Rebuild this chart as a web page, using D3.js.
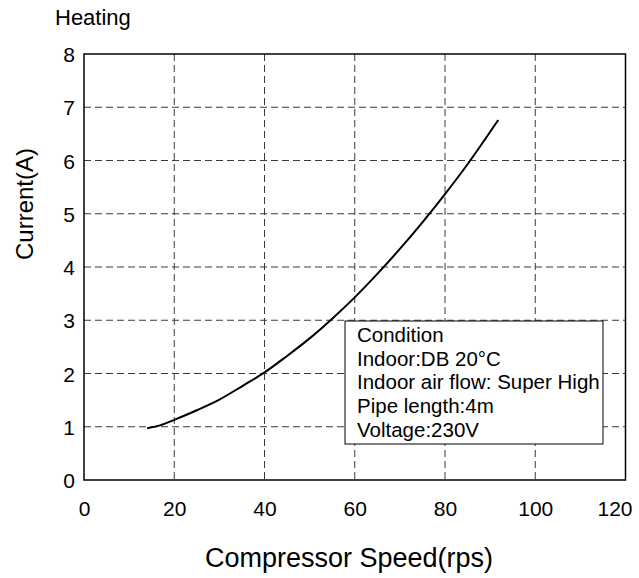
<!DOCTYPE html>
<html><head><meta charset="utf-8">
<script src="https://cdn.jsdelivr.net/npm/d3@7"></script>
<style>body{margin:0;background:#fff}text{font-family:"Liberation Sans",Arial,sans-serif;fill:#000}</style>
</head><body><svg id="c" width="639" height="578"></svg>
<script>
const speed = [14, 17, 20, 25, 30, 35, 40, 45, 50, 55, 60, 65, 70, 75, 80, 85, 91.8];
const current = [0.97, 1.03, 1.13, 1.31, 1.51, 1.76, 2.02, 2.33, 2.66, 3.03, 3.43, 3.87, 4.34, 4.84, 5.37, 5.93, 6.76];
const xTicks = [0, 20, 40, 60, 80, 100, 120];
const yTicks = [0, 1, 2, 3, 4, 5, 6, 7, 8];
const conditionLines = ["Condition", "Indoor:DB 20°C", "Indoor air flow: Super High", "Pipe length:4m", "Voltage:230V"];
const chartTitle = "Heating";
const xTitle = "Compressor Speed(rps)";
const yTitle = "Current(A)";

const svg = d3.select("#c");
const L = 84, R = 625.5, T = 54, B = 480;
const x = d3.scaleLinear().domain([0, 120]).range([L, R]);
const y = d3.scaleLinear().domain([0, 8]).range([B, T]);

// grid
const g = svg.append("g");
g.selectAll(".vg").data(xTicks.slice(1, -1)).enter().append("line")
  .attr("x1", d => x(d)).attr("x2", d => x(d)).attr("y1", T).attr("y2", B)
  .attr("stroke", "#3a3a3a").attr("stroke-width", 1).attr("stroke-dasharray", "7,4");
g.selectAll(".hg").data(yTicks.slice(1, -1)).enter().append("line")
  .attr("y1", d => y(d)).attr("y2", d => y(d)).attr("x1", L).attr("x2", R)
  .attr("stroke", "#3a3a3a").attr("stroke-width", 1).attr("stroke-dasharray", "7,4");

// axes (labels only)
const xAxis = d3.axisBottom(x).tickValues(xTicks).tickSize(0).tickPadding(0).tickFormat(d3.format("d"));
const xa = svg.append("g").attr("transform", `translate(0,${B})`).call(xAxis);
xa.select(".domain").remove();
xa.selectAll("text").attr("font-size", 21).attr("font-family", "Liberation Sans, Arial, sans-serif")
  .attr("dy", null).attr("y", 36)
  .attr("text-anchor", (d, i) => i === xTicks.length - 1 ? "end" : "middle")
  .attr("x", (d, i) => i === xTicks.length - 1 ? 632 - x(d) : 0);
const yAxis = d3.axisLeft(y).tickValues(yTicks).tickSize(0).tickPadding(9);
const ya = svg.append("g").attr("transform", `translate(${L},0)`).call(yAxis);
ya.select(".domain").remove();
ya.selectAll("text").attr("font-size", 21).attr("font-family", "Liberation Sans, Arial, sans-serif").attr("dy", "0.36em");

// curve
const pts = speed.map((s, i) => [s, current[i]]);
svg.append("path").datum(pts)
  .attr("d", d3.line().x(d => x(d[0])).y(d => y(d[1])).curve(d3.curveCatmullRom.alpha(0.5)))
  .attr("fill", "none").attr("stroke", "#000").attr("stroke-width", 2);

// frame
svg.append("rect").attr("x", L).attr("y", T).attr("width", R - L).attr("height", B - T)
  .attr("fill", "none").attr("stroke", "#000").attr("stroke-width", 1.5);

// condition box
const bx = 345, by = 321, bw = 258, bh = 123;
svg.append("rect").attr("x", bx).attr("y", by).attr("width", bw).attr("height", bh)
  .attr("fill", "#fff").attr("stroke", "#000").attr("stroke-width", 1);
svg.selectAll(".cl").data(conditionLines).enter().append("text")
  .attr("x", 357).attr("y", (d, i) => 342 + i * 23.7)
  .attr("font-size", 20.5).text(d => d);

// titles
svg.append("text").attr("x", 55).attr("y", 25).attr("font-size", 22).text(chartTitle);
svg.append("text").attr("x", 349).attr("y", 567).attr("text-anchor", "middle")
  .attr("font-size", 27).text(xTitle);
svg.append("text").attr("transform", "translate(33,204) rotate(-90)").attr("text-anchor", "middle")
  .attr("font-size", 24).text(yTitle);
</script></body></html>
